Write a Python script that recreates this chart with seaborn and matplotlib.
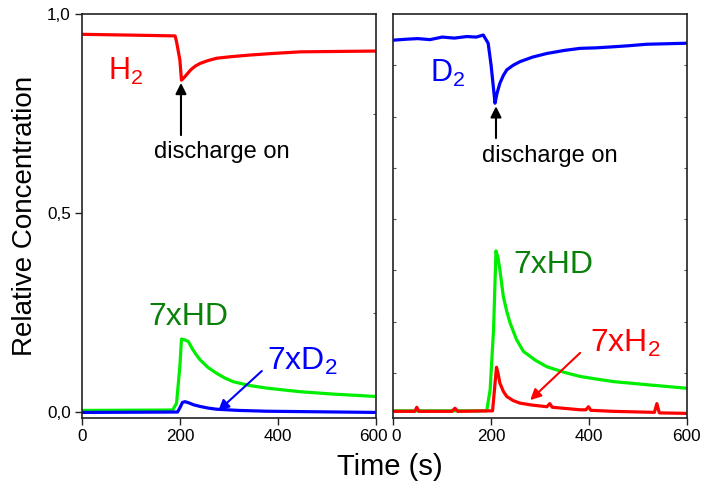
import numpy as np
import pandas as pd
import seaborn as sns
import matplotlib
matplotlib.use("Agg")
import matplotlib.pyplot as plt
import matplotlib.transforms as mtransforms
from matplotlib.ticker import FixedLocator

# ---------------- data ----------------
# left panel: H2 gas with discharge
left_h2_t = [0, 100, 190, 193, 199.7, 203, 208, 213, 222, 231, 241, 257, 275, 305, 343, 390, 445, 520, 600]
left_h2_v = [0.949, 0.947, 0.945, 0.930, 0.885, 0.834, 0.840, 0.847, 0.860, 0.869, 0.876, 0.883, 0.889,
             0.893, 0.897, 0.901, 0.905, 0.906, 0.907]

left_hd_t = [0, 185, 193, 200, 203, 210, 217, 225, 233, 241, 257, 275, 292, 309, 340, 377, 445, 513, 600]
left_hd_v = [0.005, 0.006, 0.023, 0.12, 0.184, 0.182, 0.178, 0.160, 0.145, 0.132, 0.113, 0.098, 0.086,
             0.077, 0.068, 0.061, 0.052, 0.046, 0.040]

left_d2_t = [0, 195, 200, 205, 210, 218, 228, 241, 257, 275, 320, 377, 450, 600]
left_d2_v = [0.0, 0.001, 0.012, 0.025, 0.027, 0.024, 0.019, 0.015, 0.011, 0.008, 0.005, 0.003, 0.002, 0.0]

# right panel: D2 gas with discharge
right_d2_t = [0, 30, 50, 75, 100, 125, 150, 170, 184, 194, 200, 208, 212, 218, 225, 232, 245, 259,
              285, 314, 350, 382, 415, 449, 480, 518, 560, 600]
right_d2_v = [0.749, 0.751, 0.752, 0.750, 0.755, 0.753, 0.756, 0.755, 0.759, 0.743, 0.70, 0.626, 0.645,
              0.665, 0.680, 0.691, 0.700, 0.707, 0.716, 0.723, 0.729, 0.733, 0.734, 0.736, 0.738,
              0.741, 0.742, 0.743]

right_hd_t = [0, 191, 198, 205, 210, 214, 218, 225, 232, 239, 252, 266, 290, 314, 350, 382, 415,
              450, 518, 600]
right_hd_v = [0.026, 0.026, 0.067, 0.184, 0.338, 0.325, 0.301, 0.249, 0.220, 0.197, 0.165, 0.142,
              0.125, 0.112, 0.101, 0.093, 0.088, 0.083, 0.077, 0.070]

right_h2_t = [0, 44, 48, 52, 120, 126, 132, 203, 211, 214, 218, 225, 232, 245, 259, 285, 314, 320, 325,
              382, 394, 399, 404, 450, 534, 539, 544, 600]
right_h2_v = [0.025, 0.025, 0.033, 0.025, 0.025, 0.031, 0.025, 0.026, 0.111, 0.100, 0.080, 0.064,
              0.054, 0.046, 0.041, 0.037, 0.034, 0.040, 0.033, 0.028, 0.028, 0.034, 0.027, 0.025,
              0.023, 0.040, 0.022, 0.021]

x_ticks = [0, 200, 400, 600]
x_tick_labels = ["0", "200", "400", "600"]
y_ticks = [0.0, 0.5, 1.0]
y_tick_labels = ["0,0", "0,5", "1,0"]

RED = "#ff0000"
BLUE = "#0000ff"
LIME = "#00ee00"
DKGREEN = "#0a800a"

# ---------------- style ----------------
sns.set_style("white")
plt.rcParams["font.family"] = ["Liberation Sans", "DejaVu Sans"]
plt.rcParams["mathtext.default"] = "regular"
plt.rcParams["text.color"] = "black"
plt.rcParams["xtick.color"] = "black"
plt.rcParams["ytick.color"] = "black"

fig = plt.figure(figsize=(7.01, 4.90), dpi=100)
axL = fig.add_axes([82 / 701, 72 / 490, 294 / 701, 404 / 490])
axR = fig.add_axes([393.3 / 701, 72 / 490, 293.4 / 701, 404 / 490])

LW = 2.3
TICK_FS = 12.3

def draw(ax, t, v, color):
    df = pd.DataFrame({"t": t, "v": v})
    sns.lineplot(data=df, x="t", y="v", ax=ax, color=color, lw=LW, estimator=None, sort=False)

draw(axL, left_h2_t, left_h2_v, RED)
draw(axL, left_hd_t, left_hd_v, LIME)
draw(axL, left_d2_t, left_d2_v, BLUE)

draw(axR, right_d2_t, right_d2_v, BLUE)
draw(axR, right_hd_t, right_hd_v, LIME)
draw(axR, right_h2_t, right_h2_v, RED)

for ax in (axL, axR):
    ax.set_xlim(0, 600)
    ax.set_xlabel("")
    ax.set_ylabel("")
    for s in ax.spines.values():
        s.set_visible(True)
        s.set_color("#222222")
        s.set_linewidth(1.2)
    ax.xaxis.set_major_locator(FixedLocator(x_ticks))
    ax.set_xticklabels(x_tick_labels)
    ax.tick_params(axis="x", which="major", direction="out", length=5, width=1.0,
                   labelsize=TICK_FS, pad=3, color="#222222", labelcolor="black", bottom=True, top=False)
    ax.xaxis.set_minor_locator(FixedLocator([200, 400]))
    ax.tick_params(axis="x", which="minor", direction="in", length=2, width=0.8,
                   bottom=False, top=True, color="#555555")

# nudge the two adjacent labels ("600" | "0") apart slightly
lbl600 = axL.get_xticklabels()[-1]
lbl600.set_transform(lbl600.get_transform() + mtransforms.ScaledTranslation(-3 / 100, 0, fig.dpi_scale_trans))
lbl0 = axR.get_xticklabels()[0]
lbl0.set_transform(lbl0.get_transform() + mtransforms.ScaledTranslation(3 / 100, 0, fig.dpi_scale_trans))

axL.set_ylim(-0.014, 1.0)
axL.yaxis.set_major_locator(FixedLocator(y_ticks))
axL.set_yticklabels(y_tick_labels)
axL.tick_params(axis="y", which="major", direction="out", length=5, width=1.0,
                labelsize=TICK_FS, pad=3, color="#222222", labelcolor="black", left=True, right=False)
axL.yaxis.set_minor_locator(FixedLocator([0.0, 0.25, 0.5, 0.75]))
axL.tick_params(axis="y", which="minor", direction="in", length=2, width=0.8,
                left=False, right=True, color="#555555")

axR.set_ylim(0.012, 0.80)
axR.yaxis.set_major_locator(FixedLocator([]))
axR.yaxis.set_minor_locator(FixedLocator([0.1, 0.2, 0.3, 0.4, 0.5, 0.6, 0.7]))
axR.tick_params(axis="y", which="minor", direction="in", length=2, width=0.8,
                left=True, right=True, color="#555555")

# ---------------- annotations ----------------
arrow_k = dict(arrowstyle="-|>", color="black", lw=1.5, mutation_scale=16, shrinkA=0, shrinkB=0)

axL.text(53, 0.834, "H$_2$", color=RED, fontsize=22, ha="left", va="baseline")
axL.text(286, 0.639, "discharge on", color="black", fontsize=17, ha="center", va="baseline")
axL.annotate("", xy=(202, 0.827), xytext=(202, 0.696), arrowprops=arrow_k)
axL.text(135, 0.2196, "7xHD", color=DKGREEN, fontsize=23, ha="left", va="baseline")
axL.text(378, 0.107, "7xD$_2$", color=BLUE, fontsize=23, ha="left", va="baseline")
axL.annotate("", xy=(278, 0.004), xytext=(367, 0.104),
             arrowprops=dict(arrow_k, color=BLUE))

axR.text(75, 0.668, "D$_2$", color=BLUE, fontsize=22, ha="left", va="baseline")
axR.text(321, 0.512, "discharge on", color="black", fontsize=17, ha="center", va="baseline")
axR.annotate("", xy=(210, 0.620), xytext=(210, 0.558), arrowprops=arrow_k)
axR.text(245, 0.294, "7xHD", color=DKGREEN, fontsize=23, ha="left", va="baseline")
axR.text(402, 0.1415, "7xH$_2$", color=RED, fontsize=23, ha="left", va="baseline")
axR.annotate("", xy=(280, 0.047), xytext=(382, 0.139),
             arrowprops=dict(arrow_k, color=RED))

fig.text(25 / 701, 1 - 216 / 490, "Relative Concentration", rotation=90,
         fontsize=20, ha="center", va="center", color="black")
fig.text(390 / 701, 1 - 467 / 490, "Time (s)", fontsize=21, ha="center", va="center", color="black")

fig.savefig("out.png", dpi=100)
